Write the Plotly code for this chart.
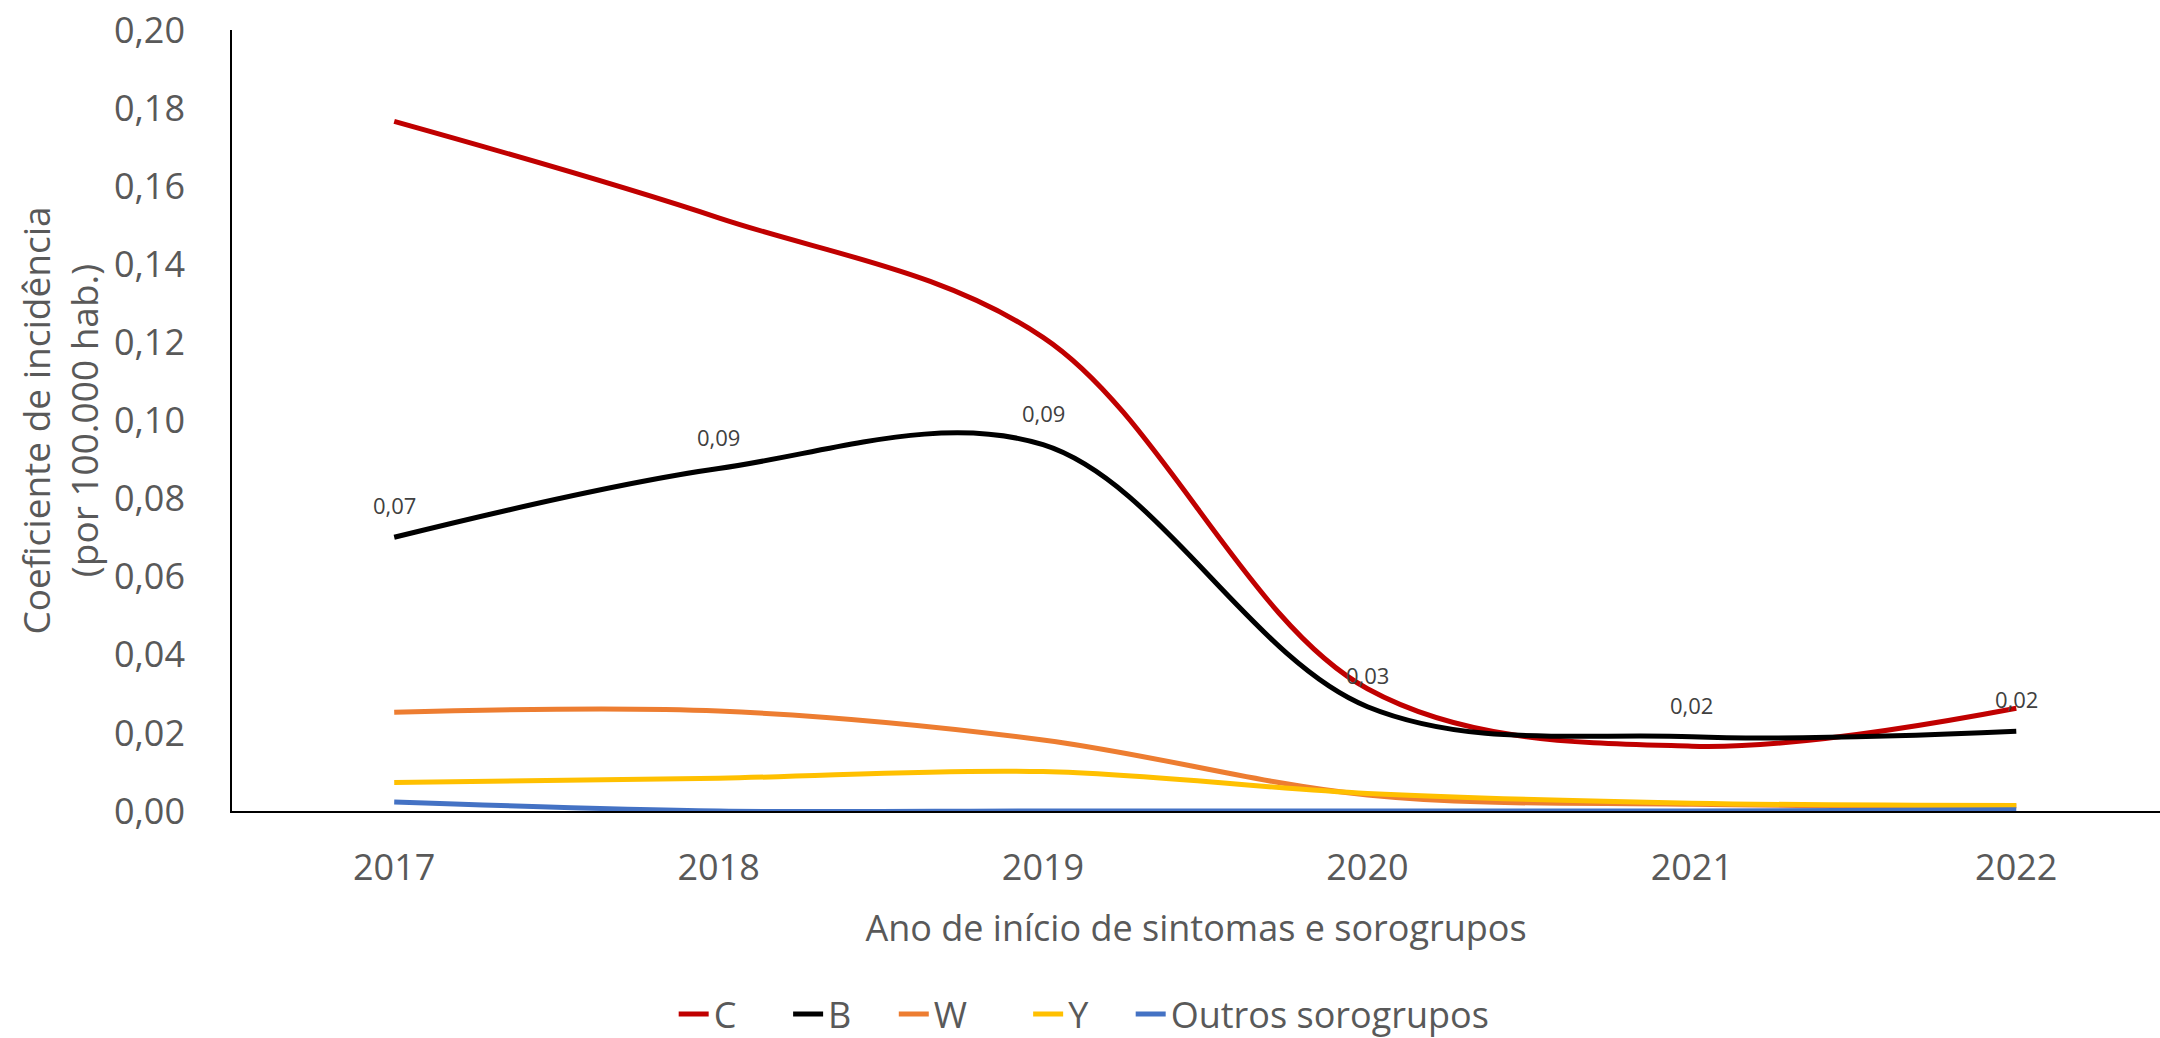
import plotly.graph_objects as go

# anos (eixo x) e coeficientes por sorogrupo
anos = ['2017', '2018', '2019', '2020', '2021', '2022']

sorogrupo_c = [0.1766, 0.1519, 0.1213, 0.0313, 0.0166, 0.0263]
sorogrupo_b = [0.0701, 0.0877, 0.0938, 0.0267, 0.0190, 0.0204]
sorogrupo_w = [0.0253, 0.0256, 0.0182, 0.0041, 0.0017, 0.0013]
sorogrupo_y = [0.0073, 0.0084, 0.0101, 0.0045, 0.0020, 0.0014]
outros = [0.0023, 0.0000, 0.0000, 0.0000, 0.0000, 0.0003]

rotulos_b = ['0,07', '0,09', '0,09', '0,03', '0,02', '0,02']
ticks_y = [0.00, 0.02, 0.04, 0.06, 0.08, 0.10, 0.12, 0.14, 0.16, 0.18, 0.20]

NB = '\u00a0'  # espaço extra entre itens da legenda
series = [
    ('C', sorogrupo_c, '#C00000', 5),
    ('B', sorogrupo_b, '#000000', 4),
    ('W', sorogrupo_w, '#ED7D31', 6),
    ('Y', sorogrupo_y, '#FFC000', 4),
    ('Outros sorogrupos', outros, '#4472C4', 0),
]

FONT = 'Open Sans'
GRAY = '#595959'

fig = go.Figure()
for nome, valores, cor, pad in series:
    fig.add_trace(go.Scatter(
        x=anos, y=valores, name=nome + NB * pad, mode='lines',
        line=dict(color=cor, width=5, shape='spline', smoothing=1.0),
    ))

# rótulos de dados da série B (x pelo índice da categoria)
for i, (v, txt) in enumerate(zip(sorogrupo_b, rotulos_b)):
    fig.add_annotation(
        x=i, y=v, text=txt, showarrow=False, yshift=32,
        font=dict(family=FONT, size=22, color='#404040'),
    )

fig.update_layout(
    width=2160, height=1038,
    margin=dict(l=232, r=0, t=30, b=227, autoexpand=False),
    paper_bgcolor='white', plot_bgcolor='white',
    separators=',.',
    font=dict(family=FONT, color=GRAY),
    showlegend=True,
    legend=dict(
        orientation='h', x=0.442, xanchor='center', y=-0.26, yanchor='middle',
        font=dict(family=FONT, size=36, color=GRAY),
    ),
)

fig.update_xaxes(
    type='category', range=[-0.5, 5.443], automargin=False,
    showline=True, linecolor='black', linewidth=1.5,
    showgrid=False, ticks='', zeroline=False,
    tickfont=dict(family=FONT, size=36, color=GRAY),
    ticklabelstandoff=24,
    title=dict(text='Ano de início de sintomas e sorogrupos', standoff=26,
               font=dict(family=FONT, size=36, color=GRAY)),
)

fig.update_yaxes(
    range=[0, 0.20], tickvals=ticks_y, tickformat='.2f', automargin=False,
    showline=True, linecolor='black', linewidth=1.5,
    showgrid=False, ticks='', zeroline=False,
    tickfont=dict(family=FONT, size=36, color=GRAY),
    ticklabelstandoff=38,
    title=dict(text='Coeficiente de incidência<br>(por 100.000 hab.)', standoff=4,
               font=dict(family=FONT, size=37, color=GRAY)),
)

# sem margem do <body>, a figura ocupa a janela toda
fig.write_html('out.html', config={'displayModeBar': False},
               post_script="document.body.style.margin='0';")
